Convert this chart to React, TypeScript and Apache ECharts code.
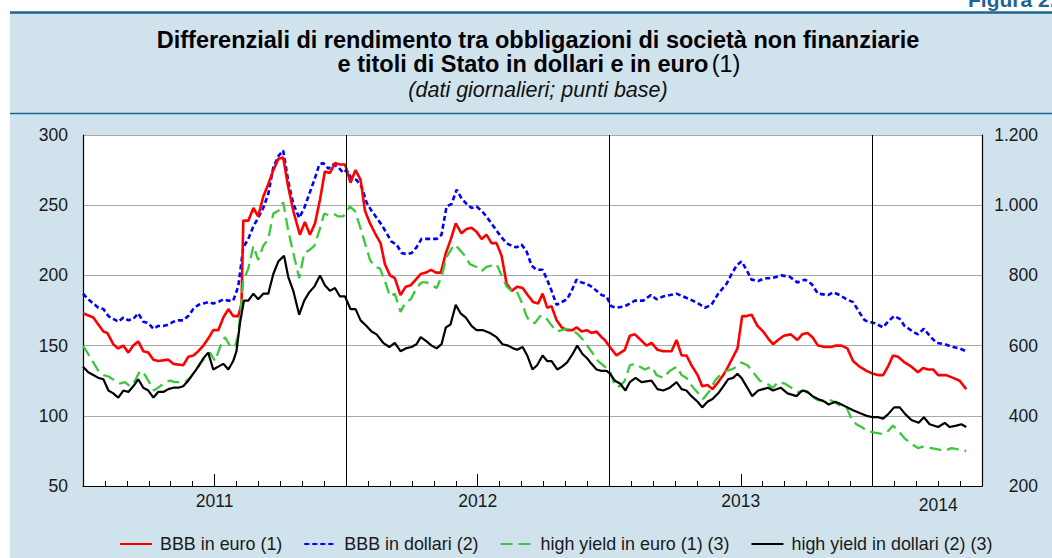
import React, { useEffect, useRef } from "react";
import * as echarts from "echarts";

// x = months since 1 January 2011
const bbbEuro: [number, number][] = [
  [0, 173], [0.47, 170], [0.93, 160], [1.11, 159], [1.38, 151], [1.61, 148], [1.84, 150], [2.07, 145], [2.29, 150], [2.52, 153],
  [2.75, 146], [2.98, 145], [3.21, 140], [3.43, 139], [3.89, 140], [4.12, 137], [4.57, 136], [4.8, 142], [5.03, 143], [5.26, 146],
  [5.49, 150], [5.71, 155], [5.94, 161], [6.17, 161], [6.4, 170], [6.63, 176], [6.85, 171], [7.08, 171], [7.23, 180], [7.31, 239],
  [7.54, 239], [7.77, 248], [7.99, 242], [8.22, 256], [8.45, 265], [8.68, 275], [8.91, 283], [9.13, 284], [9.36, 263], [9.59, 246],
  [9.89, 229], [10.12, 238], [10.35, 229], [10.58, 237], [10.81, 254], [11.03, 274], [11.26, 273], [11.49, 280], [11.72, 279], [11.95, 279],
  [12.2, 266], [12.43, 275], [12.66, 268], [12.86, 246], [13.09, 237], [13.32, 230], [13.57, 223], [13.77, 208], [14.0, 200], [14.22, 198],
  [14.48, 186], [14.72, 192], [14.95, 193], [15.18, 197], [15.4, 201], [15.64, 202], [15.87, 204], [16.1, 202], [16.32, 202], [16.55, 216],
  [16.78, 226], [17.0, 237], [17.26, 230], [17.49, 233], [17.72, 234], [17.95, 231], [18.18, 226], [18.4, 229], [18.63, 223], [18.86, 223],
  [19.09, 214], [19.32, 194], [19.55, 189], [19.81, 192], [20.05, 191], [20.28, 186], [20.53, 181], [20.76, 180], [20.96, 187], [21.17, 177],
  [21.37, 178], [21.6, 168], [21.83, 163], [22.08, 161], [22.33, 161], [22.51, 163], [22.74, 160], [22.97, 161], [23.19, 159], [23.42, 160],
  [23.65, 156], [23.8, 154], [24.03, 149], [24.33, 143], [24.71, 147], [24.94, 157], [25.17, 158], [25.44, 154], [25.7, 150], [25.93, 152],
  [26.2, 147], [26.46, 146], [26.84, 146], [27.07, 154], [27.3, 143], [27.52, 143], [27.75, 136], [28.03, 129], [28.24, 121], [28.48, 122],
  [28.71, 119], [28.97, 124], [29.2, 129], [29.42, 135], [29.65, 142], [29.85, 148], [30.06, 171], [30.26, 171], [30.49, 172], [30.76, 164],
  [31.02, 160], [31.25, 155], [31.47, 151], [31.7, 154], [31.96, 157], [32.28, 158], [32.58, 154], [32.8, 158], [33.04, 159], [33.27, 156],
  [33.52, 150], [33.83, 149], [34.13, 149], [34.31, 150], [34.59, 150], [34.86, 148], [35.12, 139], [35.42, 135], [35.73, 132], [36.03, 130],
  [36.26, 129], [36.49, 129], [36.71, 135], [36.94, 143], [37.17, 142], [37.47, 138], [37.78, 135], [38.08, 131], [38.31, 134], [38.54, 133],
  [38.77, 133], [39.0, 129], [39.37, 129], [39.68, 127], [39.98, 125], [40.28, 119],
];

const bbbDollari: [number, number][] = [
  [0, 187], [0.24, 183], [0.47, 180], [0.7, 177], [0.93, 176], [1.16, 171], [1.38, 169], [1.61, 167], [1.84, 170], [2.07, 168],
  [2.29, 169], [2.52, 173], [2.75, 167], [2.98, 166], [3.21, 162], [3.43, 164], [3.66, 164], [3.89, 165], [4.12, 167], [4.35, 168],
  [4.57, 168], [4.8, 171], [5.03, 176], [5.26, 179], [5.49, 180], [5.71, 181], [5.94, 180], [6.17, 181], [6.4, 183], [6.63, 182],
  [6.85, 182], [7.08, 192], [7.31, 220], [7.54, 226], [7.77, 235], [7.99, 241], [8.22, 248], [8.45, 258], [8.68, 277], [8.91, 285],
  [9.13, 289], [9.36, 267], [9.59, 251], [9.86, 241], [10.09, 248], [10.32, 258], [10.55, 268], [10.78, 279], [10.96, 280], [11.19, 276],
  [11.41, 279], [11.64, 277], [11.87, 273], [12.02, 275], [12.25, 269], [12.48, 268], [12.71, 263], [12.93, 252], [13.16, 246], [13.39, 241],
  [13.62, 236], [13.85, 230], [14.07, 224], [14.3, 222], [14.53, 216], [14.76, 215], [14.99, 216], [15.21, 220], [15.44, 226], [15.67, 226],
  [15.9, 226], [16.13, 226], [16.35, 229], [16.58, 249], [16.81, 251], [17.04, 261], [17.26, 255], [17.49, 251], [17.72, 248], [17.95, 249],
  [18.18, 246], [18.4, 242], [18.63, 237], [18.86, 232], [19.09, 227], [19.32, 223], [19.55, 221], [19.77, 220], [20.0, 222], [20.23, 217],
  [20.46, 207], [20.68, 204], [20.96, 204], [21.14, 198], [21.37, 189], [21.6, 179], [21.82, 181], [22.08, 183], [22.28, 189], [22.51, 197],
  [22.73, 195], [22.96, 194], [23.19, 192], [23.42, 189], [23.65, 186], [23.87, 185], [24.1, 178], [24.33, 177], [24.71, 178], [24.94, 180],
  [25.17, 182], [25.55, 182], [25.9, 186], [26.16, 183], [26.46, 185], [26.77, 186], [27.07, 187], [27.37, 185], [27.68, 183], [28.06, 180],
  [28.36, 177], [28.66, 179], [28.97, 187], [29.35, 194], [29.58, 201], [29.81, 207], [30.03, 210], [30.26, 204], [30.49, 197], [30.79, 196],
  [31.09, 198], [31.4, 198], [31.85, 200], [32.23, 199], [32.58, 195], [32.92, 197], [33.22, 194], [33.52, 187], [33.98, 186], [34.21, 188],
  [34.51, 186], [34.82, 183], [35.12, 181], [35.35, 175], [35.65, 168], [36.1, 166], [36.49, 163], [36.71, 167], [36.99, 171], [37.25, 169],
  [37.47, 164], [37.85, 160], [38.08, 158], [38.35, 162], [38.61, 157], [38.92, 152], [39.3, 151], [39.68, 149], [39.98, 148], [40.28, 146],
];

const highYieldEuro: [number, number][] = [
  [0, 600], [0.24, 576], [0.47, 552], [0.7, 528], [0.93, 516], [1.16, 512], [1.46, 500], [1.69, 492], [1.91, 496], [2.14, 484],
  [2.37, 500], [2.6, 528], [2.83, 516], [3.05, 492], [3.24, 472], [3.51, 484], [3.74, 496], [3.97, 500], [4.19, 496], [4.42, 496],
  [4.65, 496], [4.88, 508], [5.11, 528], [5.33, 548], [5.56, 564], [5.79, 580], [6.02, 556], [6.25, 596], [6.47, 624], [6.7, 600],
  [6.93, 596], [7.08, 632], [7.23, 728], [7.31, 784], [7.54, 820], [7.77, 884], [7.99, 844], [8.22, 884], [8.45, 904], [8.68, 976],
  [8.91, 984], [9.13, 1008], [9.36, 928], [9.59, 864], [9.86, 792], [10.09, 864], [10.32, 872], [10.55, 884], [10.78, 928], [11.0, 976],
  [11.19, 972], [11.41, 976], [11.64, 968], [11.87, 968], [12.17, 996], [12.4, 984], [12.63, 940], [12.86, 892], [13.09, 844], [13.32, 824],
  [13.54, 820], [13.77, 784], [14.0, 740], [14.22, 748], [14.48, 696], [14.72, 724], [14.95, 732], [15.21, 764], [15.44, 780], [15.67, 780],
  [15.9, 772], [16.13, 764], [16.35, 796], [16.58, 852], [16.81, 876], [16.96, 888], [17.19, 872], [17.42, 856], [17.64, 832], [17.95, 824],
  [18.18, 812], [18.4, 824], [18.63, 828], [18.86, 832], [19.09, 800], [19.32, 768], [19.55, 756], [19.77, 756], [20.0, 724], [20.23, 684],
  [20.38, 668], [20.61, 664], [20.84, 684], [21.06, 684], [21.29, 664], [21.6, 640], [21.82, 644], [22.08, 648], [22.33, 644], [22.58, 632],
  [22.81, 616], [23.04, 596], [23.27, 576], [23.49, 556], [23.72, 544], [24.03, 528], [24.26, 484], [24.49, 484], [24.71, 500], [24.94, 544],
  [25.17, 548], [25.4, 540], [25.63, 532], [25.93, 540], [26.16, 516], [26.46, 508], [26.76, 528], [27.07, 540], [27.3, 516], [27.52, 508],
  [27.83, 480], [28.06, 464], [28.28, 448], [28.59, 472], [28.82, 500], [29.05, 516], [29.35, 528], [29.58, 532], [29.81, 540], [30.03, 552],
  [30.3, 544], [30.56, 524], [30.87, 500], [31.17, 492], [31.47, 480], [31.7, 496], [32.0, 492], [32.31, 480], [32.61, 468], [32.92, 472],
  [33.22, 456], [33.52, 444], [33.83, 444], [34.13, 444], [34.44, 432], [34.82, 424], [35.04, 392], [35.27, 376], [35.5, 368], [35.8, 356],
  [36.11, 352], [36.49, 348], [36.71, 356], [36.94, 372], [37.25, 352], [37.47, 336], [37.78, 320], [38.08, 308], [38.31, 312], [38.69, 308],
  [39.0, 304], [39.3, 300], [39.61, 308], [39.91, 304], [40.28, 300],
];

const highYieldDollari: [number, number][] = [
  [0, 540], [0.24, 524], [0.47, 516], [0.7, 508], [0.93, 504], [1.16, 472], [1.38, 464], [1.61, 452], [1.84, 472], [2.07, 468],
  [2.29, 484], [2.52, 504], [2.75, 480], [2.98, 472], [3.21, 452], [3.43, 468], [3.66, 468], [3.89, 476], [4.12, 480], [4.35, 480],
  [4.57, 484], [4.8, 500], [5.03, 520], [5.26, 540], [5.49, 564], [5.71, 580], [5.94, 532], [6.17, 540], [6.4, 548], [6.63, 532],
  [6.85, 556], [7.0, 584], [7.16, 664], [7.34, 728], [7.54, 728], [7.77, 748], [7.99, 732], [8.22, 748], [8.45, 748], [8.68, 804],
  [8.91, 840], [9.17, 856], [9.36, 796], [9.59, 756], [9.86, 688], [10.09, 728], [10.32, 752], [10.55, 768], [10.81, 800], [11.03, 772],
  [11.26, 756], [11.49, 764], [11.72, 740], [11.95, 740], [12.2, 704], [12.43, 704], [12.66, 672], [12.93, 656], [13.16, 640], [13.39, 632],
  [13.69, 608], [13.97, 596], [14.22, 608], [14.48, 584], [14.72, 592], [14.98, 596], [15.21, 604], [15.4, 624], [15.67, 612], [15.9, 600],
  [16.13, 592], [16.35, 604], [16.55, 652], [16.76, 660], [17.0, 716], [17.22, 692], [17.46, 680], [17.72, 656], [17.95, 644], [18.25, 644],
  [18.56, 636], [18.86, 624], [19.13, 604], [19.39, 600], [19.62, 592], [19.8, 588], [20.05, 596], [20.26, 572], [20.5, 532], [20.71, 544],
  [20.96, 572], [21.17, 556], [21.37, 556], [21.63, 532], [21.85, 540], [22.08, 552], [22.33, 576], [22.54, 600], [22.78, 576], [22.99, 564],
  [23.19, 548], [23.42, 532], [23.65, 528], [23.88, 528], [24.03, 520], [24.26, 500], [24.49, 492], [24.74, 472], [24.94, 496], [25.2, 508],
  [25.47, 496], [25.93, 500], [26.2, 476], [26.46, 472], [26.76, 480], [27.07, 496], [27.3, 476], [27.52, 472], [27.75, 456], [28.03, 440],
  [28.24, 424], [28.48, 440], [28.71, 448], [28.97, 464], [29.2, 484], [29.42, 504], [29.65, 508], [29.85, 520], [30.03, 508], [30.26, 484],
  [30.52, 456], [30.79, 472], [31.02, 476], [31.25, 480], [31.47, 472], [31.82, 480], [32.13, 464], [32.54, 456], [32.8, 472], [33.04, 468],
  [33.27, 456], [33.52, 448], [33.83, 440], [34.01, 432], [34.31, 440], [34.59, 432], [34.86, 424], [35.12, 416], [35.42, 408], [35.73, 400],
  [36.03, 396], [36.26, 396], [36.49, 392], [36.71, 404], [36.99, 424], [37.25, 424], [37.51, 404], [37.78, 388], [38.11, 380], [38.35, 396],
  [38.61, 376], [39.0, 368], [39.3, 380], [39.53, 368], [39.83, 372], [40.06, 376], [40.28, 368],
];

const seriesNames = [
  "BBB in euro (1)",
  "BBB in dollari (2)",
  "high yield in euro (1) (3)",
  "high yield in dollari (2) (3)",
];
const yearLabelPositions = [6, 18, 30, 39];
const yearLabels = ["2011", "2012", "2013", "2014"];
const midYearTicks = [6, 18, 30];
const yearBoundaries = [12, 24, 36];

const FONT = "'Liberation Sans', Arial, Helvetica, sans-serif";

export default function App() {
  const ref = useRef<HTMLDivElement>(null);
  useEffect(() => {
    if (!ref.current) return;
    const chart = echarts.init(ref.current, null, { renderer: "svg" });
    const textColor = "#1a1a1a";
    chart.setOption({
      animation: false,
      backgroundColor: "#ffffff",
      textStyle: { fontFamily: FONT },
      graphic: [
        { type: "rect", z: -10, shape: { x: 10, y: 12, width: 1042, height: 546 }, style: { fill: "#d0e2ec" }, silent: true },
        { type: "line", z: -9, shape: { x1: 10, y1: 12.5, x2: 1052, y2: 12.5 }, style: { stroke: "#1c6592", lineWidth: 2.5 }, silent: true },
        { type: "line", z: -9, shape: { x1: 10, y1: 113.5, x2: 1052, y2: 113.5 }, style: { stroke: "#1c6592", lineWidth: 1.5 }, silent: true },
        {
          type: "text", x: 968, y: 10,
          style: { text: "Figura 2.", fontFamily: FONT, fontWeight: "bold", fontSize: 21, fill: "#1c6592", verticalAlign: "bottom", align: "left" },
        },
        {
          type: "text", x: 538, y: 40,
          style: {
            text: "Differenziali di rendimento tra obbligazioni di società non finanziarie",
            fontFamily: FONT, fontWeight: "bold", fontSize: 23.5, fill: "#000", align: "center", verticalAlign: "middle",
          },
        },
        {
          type: "text", x: 539, y: 64,
          style: {
            text: "{b|e titoli di Stato in dollari e in euro} {n|(1)}",
            align: "center", verticalAlign: "middle",
            rich: {
              b: { fontFamily: FONT, fontWeight: "bold", fontSize: 23.5, fill: "#000" },
              n: { fontFamily: FONT, fontWeight: "normal", fontSize: 23.5, fill: "#000" },
            },
          },
        },
        {
          type: "text", x: 538, y: 90,
          style: {
            text: "(dati giornalieri; punti base)",
            fontFamily: FONT, fontStyle: "italic", fontSize: 21.5, fill: "#111", align: "center", verticalAlign: "middle",
          },
        },
      ],
      legend: {
        left: 119, top: 535, padding: 0,
        itemWidth: 32, itemHeight: 4, itemGap: 21,
        itemStyle: { opacity: 0 },
        textStyle: { fontSize: 17.9, color: textColor, fontFamily: FONT, padding: [0, 0, 0, 3] },
        data: seriesNames,
      },
      grid: { left: 83, right: 70, top: 135, bottom: 72, show: true, backgroundColor: "#ffffff", borderWidth: 0 },
      xAxis: [
        {
          type: "value", min: 0, max: 41, interval: 1,
          axisLine: { show: true, onZero: false, lineStyle: { color: "#000", width: 1.2 } },
          axisTick: { show: true, inside: true, length: 5, lineStyle: { color: "#000", width: 1 } },
          splitLine: { show: false },
          axisLabel: {
            show: true, customValues: yearLabelPositions, margin: 6,
            fontSize: 17.5, color: textColor, fontFamily: FONT,
            formatter: (v: number) => {
              const i = yearLabelPositions.indexOf(Math.round(v));
              if (i < 0) return "";
              return i === 3 ? "{d|" + yearLabels[i] + "}" : yearLabels[i];
            },
            rich: { d: { fontSize: 17.5, color: textColor, fontFamily: FONT, padding: [4, 0, 0, 0] } },
          },
        },
        {
          type: "value", min: 0, max: 41,
          position: "bottom",
          axisLine: { show: false },
          axisTick: { show: true, inside: true, length: 12, customValues: midYearTicks, lineStyle: { color: "#000", width: 1 } },
          axisLabel: { show: false },
          splitLine: { show: false },
        },
      ],
      yAxis: [
        {
          type: "value", min: 50, max: 300, interval: 50, position: "left",
          axisLine: { show: true, onZero: false, lineStyle: { color: "#000", width: 1.2 } },
          axisTick: { show: false },
          splitLine: { show: true, lineStyle: { color: "#a9a9a9", width: 1 } },
          axisLabel: { fontSize: 17.5, color: textColor, fontFamily: FONT, margin: 15 },
        },
        {
          type: "value", min: 200, max: 1200, interval: 200, position: "right",
          axisLine: { show: true, onZero: false, lineStyle: { color: "#000", width: 1.2 } },
          axisTick: { show: false },
          splitLine: { show: false },
          axisLabel: {
            fontSize: 17.5, color: textColor, fontFamily: FONT, margin: 56, align: "right",
            formatter: (v: number) => (v >= 1000 ? Math.floor(v / 1000) + "." + String(v % 1000).padStart(3, "0") : String(v)),
          },
        },
      ],
      series: [
        {
          name: seriesNames[0], type: "line", yAxisIndex: 0, data: bbbEuro, symbol: "none", showSymbol: false, z: 4,
          lineStyle: { color: "#ff0000", width: 2.6, type: "solid" }, itemStyle: { color: "#ff0000" },
          markLine: {
            silent: true, symbol: "none", label: { show: false },
            lineStyle: { color: "#000", width: 1, type: "solid" },
            data: yearBoundaries.map((m) => ({ xAxis: m })),
          },
        },
        {
          name: seriesNames[1], type: "line", yAxisIndex: 0, data: bbbDollari, symbol: "none", showSymbol: false, z: 3,
          lineStyle: { color: "#0000ff", width: 2.6, type: [5, 3] }, itemStyle: { color: "#0000ff" },
        },
        {
          name: seriesNames[2], type: "line", yAxisIndex: 1, data: highYieldEuro, symbol: "none", showSymbol: false, z: 5,
          lineStyle: { color: "#3cc83c", width: 2.3, type: [12, 6] }, itemStyle: { color: "#3cc83c" },
        },
        {
          name: seriesNames[3], type: "line", yAxisIndex: 1, data: highYieldDollari, symbol: "none", showSymbol: false, z: 6,
          lineStyle: { color: "#000000", width: 2.2, type: "solid" }, itemStyle: { color: "#000000" },
        },
      ],
    });
    return () => chart.dispose();
  }, []);
  return (
    <div style={{ position: "fixed", left: 0, top: 0, width: 1052, height: 558, background: "#fff" }}>
      <div ref={ref} style={{ width: 1052, height: 558 }} />
    </div>
  );
}
